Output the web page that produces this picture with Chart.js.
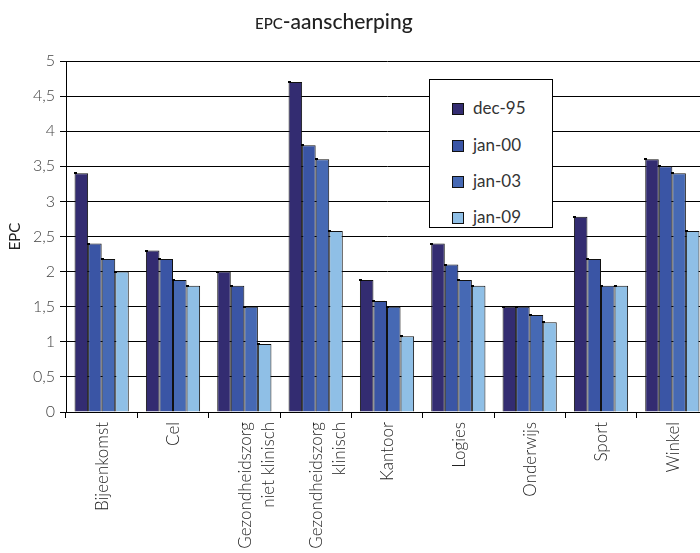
<!DOCTYPE html>
<html>
<head>
<meta charset="utf-8">
<script src="https://cdn.jsdelivr.net/npm/chart.js@4/dist/chart.umd.min.js"></script>
<style>
  html, body { margin: 0; padding: 0; background: #fff; overflow: hidden; }
  #wrap { position: relative; width: 700px; height: 553px; }
  #chartBox { position: absolute; left: 0; top: 0; width: 712px; height: 553px; }
  #title {
    position: absolute; left: 255px; top: 8px;
    font-family: Lato, sans-serif; font-size: 21px; color: #222; font-weight: 500;
  }
  #title .sc { font-variant: small-caps; }
  #legend {
    position: absolute; left: 429px; top: 79px; width: 122px; height: 147px;
    border: 1px solid #000; background: #fff;
    font-family: Lato, sans-serif; font-size: 17px; font-weight: 400; color: #333;
  }
  #legend .item { position: absolute; left: 22px; height: 20px; line-height: 20px; white-space: nowrap; }
  #legend .swatch {
    display: inline-block; width: 10px; height: 10px; border: 1px solid #111;
    vertical-align: middle; margin-right: 9px; position: relative; top: -1px;
  }
</style>
</head>
<body>
<div id="wrap">
  <div id="chartBox"><canvas id="epcChart"></canvas></div>
  <div id="title"><span class="sc">epc</span>-aanscherping</div>
  <div id="legend"></div>
</div>
<script>
// categories (building functions)
const categories = [
  'Bijeenkomst',
  'Cel',
  ['Gezondheidszorg', 'niet klinisch'],
  ['Gezondheidszorg', 'klinisch'],
  'Kantoor',
  'Logies',
  'Onderwijs',
  'Sport',
  'Winkel'
];

// series
const seriesNames = ['dec-95', 'jan-00', 'jan-03', 'jan-09'];
const dec95 = [3.4, 2.3, 2.0, 4.7, 1.88, 2.4, 1.5, 2.78, 3.6];
const jan00 = [2.4, 2.18, 1.8, 3.8, 1.58, 2.1, 1.5, 2.18, 3.5];
const jan03 = [2.18, 1.88, 1.5, 3.6, 1.5, 1.88, 1.38, 1.8, 3.4];
const jan09 = [2.0, 1.8, 0.97, 2.58, 1.08, 1.8, 1.28, 1.8, 2.58];
const seriesColors = ['#332c71', '#3a55a5', '#4669b4', '#8fbfe6'];

// y axis
const yMin = 0;
const yMax = 5;
const yStep = 0.5;

const seriesValues = [dec95, jan00, jan03, jan09];

// small black mark at the top-left corner of each bar
const cornerMarks = {
  id: 'cornerMarks',
  afterDatasetsDraw(chart) {
    const ctx = chart.ctx;
    ctx.save();
    ctx.fillStyle = '#000';
    chart.data.datasets.forEach((ds, i) => {
      chart.getDatasetMeta(i).data.forEach(bar => {
        const p = bar.getProps(['x', 'y', 'width'], true);
        ctx.fillRect(Math.round(p.x - p.width / 2) - 1, Math.round(p.y) - 1, 3, 2);
      });
    });
    ctx.restore();
  }
};

new Chart(document.getElementById('epcChart'), {
  type: 'bar',
  data: {
    labels: categories,
    datasets: seriesNames.map((name, i) => ({
      label: name,
      data: seriesValues[i],
      backgroundColor: seriesColors[i],
      borderColor: '#111',
      borderWidth: 1,
      categoryPercentage: 0.76,
      barPercentage: 1.0
    }))
  },
  options: {
    responsive: true,
    maintainAspectRatio: false,
    animation: false,
    layout: { padding: { top: 61, right: 4, left: 0, bottom: 0 } },
    plugins: {
      legend: { display: false },
      tooltip: { enabled: false }
    },
    scales: {
      x: {
        grid: {
          offset: true,
          drawOnChartArea: false,
          drawTicks: true,
          tickLength: 6,
          color: '#000'
        },
        border: { color: '#000', width: 1 },
        ticks: {
          autoSkip: false,
          minRotation: 90,
          maxRotation: 90,
          padding: 4,
          labelOffset: 1,
          color: '#222',
          font: { family: 'Lato', size: 17, weight: 300, lineHeight: 1.35 }
        },
        afterFit(scale) { scale.height = 141; }
      },
      y: {
        min: yMin,
        max: yMax,
        grid: { color: '#000', lineWidth: 1, tickLength: 6 },
        border: { color: '#000', width: 1 },
        ticks: {
          stepSize: yStep,
          padding: 5,
          color: '#444',
          font: { family: 'Lato', size: 16, weight: 300 },
          callback: v => String(v).replace('.', ',')
        },
        title: {
          display: true,
          text: 'EPC',
          color: '#222',
          font: { family: 'Lato', size: 15 },
          padding: { top: 6, bottom: 0 }
        },
        afterFit(scale) { scale.width = 66; }
      }
    }
  },
  plugins: [cornerMarks]
});

// legend inside the plot
const legendEl = document.getElementById('legend');
const legendTops = [18, 55, 91, 127];
seriesNames.forEach((name, i) => {
  const item = document.createElement('div');
  item.className = 'item';
  item.style.top = legendTops[i] + 'px';
  item.innerHTML = '<span class="swatch" style="background:' + seriesColors[i] + '"></span>' + name;
  legendEl.appendChild(item);
});
</script>
</body>
</html>
